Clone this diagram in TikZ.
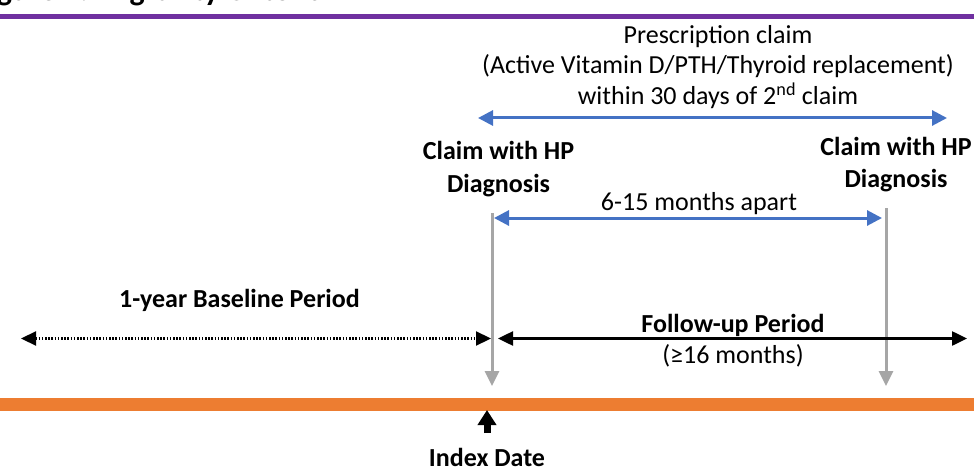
\documentclass[tikz,border=0pt]{standalone}
\usepackage{fontspec}
\setmainfont{Carlito}
\usetikzlibrary{arrows.meta}
\definecolor{hpblue}{HTML}{4472C4}
\definecolor{hporange}{HTML}{ED7D31}
\definecolor{hppurple}{HTML}{7030A0}
\definecolor{hpgray}{HTML}{A6A6A6}
\tikzset{
  txt/.style={inner sep=0pt, anchor=base, font=\fontsize{26}{31}\selectfont},
  btxt/.style={inner sep=0pt, anchor=base, font=\fontsize{26}{31}\selectfont\bfseries},
  bluearrow/.style={draw=hpblue, line width=3pt, {Triangle[length=15pt,width=15pt]}-{Triangle[length=15pt,width=15pt]}},
  blackarrow/.style={draw=black, line width=2.5pt, {Triangle[length=15pt,width=14pt]}-{Triangle[length=15pt,width=14pt]}},
  grayarrow/.style={draw=hpgray, line width=3pt, -{Triangle[length=15pt,width=14pt]}},
}
\begin{document}
\begin{tikzpicture}[x=1pt,y=-1pt]
\useasboundingbox (0,0) rectangle (974,468);
\clip (0,0) rectangle (974,468);
% title (cut off at the top edge)
\node[anchor=base east, inner sep=0pt, font=\fontsize{32}{38}\selectfont\bfseries] (title) at (325,1) {Figure 1: Eligibility Criteria};
\draw[hppurple, line width=5.5pt] (0,16.3) -- (974,16.3);
% prescription claim
\node[txt] (rx1) at (718,44) {Prescription claim};
\node[txt] (rx2) at (718,74) {(Active Vitamin D/PTH/Thyroid replacement)};
\node[txt] (rx3) at (718,104.5) {within 30 days of 2\textsuperscript{nd} claim};
\coordinate (rxL) at (478,118);
\coordinate (rxR) at (947,118);
\draw[bluearrow] (rxL) -- (rxR);
% claims
\node[btxt] (c1a) at (498.5,160) {Claim with HP};
\node[btxt] (c1b) at (498.5,192) {Diagnosis};
\node[btxt] (c2a) at (896,155) {Claim with HP};
\node[btxt] (c2b) at (896,187) {Diagnosis};
\node[txt] (apart) at (699,210) {6-15 months apart};
\coordinate (g1t) at (492,213);
\coordinate (g1b) at (492,386);
\coordinate (g2t) at (886,208);
\coordinate (g2b) at (886,386);
\draw[grayarrow] (g1t) -- (g1b);
\draw[grayarrow] (g2t) -- (g2b);
\coordinate (apL) at (494,218);
\coordinate (apR) at (882,218);
\draw[bluearrow] (apL) -- (apR);
% baseline
\node[btxt] (base) at (239.5,307) {1-year Baseline Period};
\coordinate (bL) at (21,338.5);
\coordinate (bR) at (491,338.5);
\draw[line width=2.2pt, dash pattern=on 1.6pt off 1.6pt, {Triangle[length=15pt,width=14pt]}-{Triangle[length=15pt,width=14pt]}] (bL) -- (bR);
% follow-up
\node[btxt] (fu) at (733,332) {Follow-up Period};
\node[txt] (fu2) at (733,363) {(≥16 months)};
\coordinate (fL) at (498,338.5);
\coordinate (fR) at (967,338.5);
\draw[blackarrow] (fL) -- (fR);
% timeline
\draw[hporange, line width=13pt] (0,404.5) -- (974,404.5);
% index date
\coordinate (iB) at (487,433);
\coordinate (iT) at (487,410);
\draw[line width=7pt, -{Triangle[length=15pt,width=18pt]}] (iB) -- (iT);
\node[btxt] (idx) at (487,466) {Index Date};
\end{tikzpicture}
\end{document}
